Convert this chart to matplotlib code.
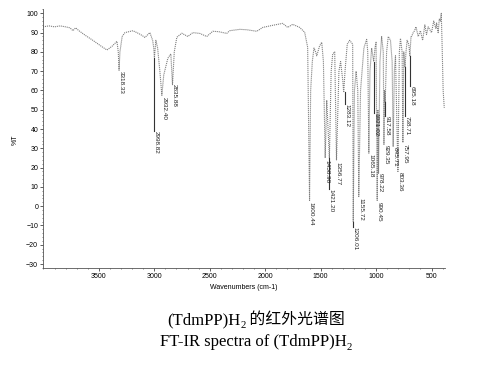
import numpy as np
import matplotlib
matplotlib.use('Agg')
import matplotlib.pyplot as plt
from matplotlib.ticker import MultipleLocator

plt.rcParams['font.family'] = ['Liberation Sans', 'DejaVu Sans']

# spectrum knots (wavenumber cm-1, %T)
SPEC_WN = [4004, 3950, 3900, 3850, 3800, 3760, 3734, 3710, 3680, 3620, 3554, 3480, 3427,
           3380, 3337, 3325, 3318, 3310, 3290, 3265, 3193, 3140, 3112, 3085, 3040, 3015,
           3005, 2999, 2992, 2986, 2970, 2950, 2932, 2915, 2878, 2851, 2836, 2820, 2797,
           2752, 2698, 2653, 2590, 2527, 2473, 2420, 2347, 2320, 2229, 2166, 2076, 2022,
           1932, 1842, 1797, 1752, 1689, 1644, 1617, 1600, 1590, 1575, 1560, 1545, 1535,
           1510, 1490, 1475, 1459, 1445, 1421, 1405, 1391, 1373, 1357, 1335, 1320, 1300,
           1292, 1280, 1260, 1238, 1225, 1211, 1206, 1195, 1180, 1165, 1156, 1140, 1110,
           1085, 1075, 1065, 1055, 1040, 1021, 1010, 1000, 990, 984, 978, 965, 950, 935,
           929, 923, 917.6, 905, 890, 870, 855, 846, 835, 825, 803, 790, 780, 765, 758,
           750, 739, 730, 720, 705, 695, 685, 680, 665, 653, 640, 620, 600, 580, 560, 545,
           530, 500, 480, 460, 454, 440, 430, 420, 412, 405, 395, 385]
SPEC_T = [93, 93.5, 93, 93.5, 93, 92.5, 91, 92.5, 91, 88.5, 86, 83, 81,
          83, 85.5, 80, 70.5, 80, 88, 90, 91, 89.5, 88.6, 87.5, 90, 86,
          82, 77, 82, 86, 82, 70, 57.5, 68, 76.7, 79, 63, 80, 87.6,
          89.7, 88, 90, 89.6, 88, 90.7, 90.5, 89.6, 91, 91.7, 91.5, 90.7, 92.7,
          93.8, 94.8, 92.7, 94.3, 92.7, 90.2, 82.4, 3, 60, 75, 82, 80, 78,
          83, 85, 75, 25, 55, 25, 70, 79, 80, 24, 70, 75, 65,
          59, 70, 84, 86, 85, 84, -8, 60, 70, 60, 5, 60, 82,
          86.5, 80, 27.5, 70, 82, 75, 82, 85, 3, 50, 17, 75, 88, 80,
          32, 60, 54, 80, 88, 86, 75, 31, 70, 78, 18, 80, 87, 80, 33,
          80, 72, 80, 86, 84, 78, 88, 88, 90, 91, 93, 88, 91, 86, 94, 89,
          93, 90, 96, 92, 95, 90, 97, 96, 100, 85, 60, 51]

# labelled peaks
PEAK_LABELS = ['3318.33', '2998.82', '2932.40', '2835.88', '1600.44', '1458.90', '1421.20',
               '1356.77', '1283.12', '1206.01', '1155.72', '1065.18', '1021.02', '990.45',
               '978.22', '929.35', '917.58', '845.71', '803.36', '757.95', '738.71', '695.18']
PEAK_WN = [3318.33, 2998.82, 2932.40, 2835.88, 1600.44, 1458.90, 1421.20, 1356.77, 1283.12,
           1206.01, 1155.72, 1065.18, 1021.02, 990.45, 978.22, 929.35, 917.58, 845.71,
           803.36, 757.95, 738.71, 695.18]
PEAK_T = [70.5, 77, 57.5, 63, 3, 25, 25, 24, 59, -8, 5, 27.5, 75, 3, 17, 32, 54, 31, 18,
          33, 72, 78]
LABEL_T = [70, 39, 56.5, 63.5, 2, 24, 9, 23, 53, -11, 4.5, 27, 48.5, 2, 17, 31.5, 47,
           30.5, 17.5, 32.5, 47, 62.5]

fig = plt.figure(figsize=(4.97, 3.65), dpi=100)
ax = fig.add_axes([0.0865, 0.266, 0.8085, 0.708])

ax.plot(SPEC_WN, SPEC_T, color='#808080', lw=0.8, ls=(0, (1, 0.8)))

for lab, wn, pt, lt in zip(PEAK_LABELS, PEAK_WN, PEAK_T, LABEL_T):
    if pt - lt > 1.5:
        ax.plot([wn, wn], [pt, lt], color='#333333', lw=0.8)
    ax.text(wn + 5, lt, lab, rotation=-90, ha='left', va='bottom', fontsize=4.6,
            color='#222222', rotation_mode='anchor')

ax.set_xlim(4004, 380)
ax.set_ylim(-32, 102)
ax.xaxis.set_minor_locator(MultipleLocator(100))
ax.yaxis.set_minor_locator(MultipleLocator(2))
ax.set_xticks([3500, 3000, 2500, 2000, 1500, 1000, 500])
ax.set_yticks(np.arange(-30, 101, 10))

for s in ['top', 'right']:
    ax.spines[s].set_visible(False)
for s in ['left', 'bottom']:
    ax.spines[s].set_color('#555555')
    ax.spines[s].set_linewidth(0.6)
ax.tick_params(which='major', length=2, width=0.6, color='#444444', labelsize=5, pad=1.5)
ax.tick_params(which='minor', length=1, width=0.5, color='#555555')

ax.set_xlabel('Wavenumbers (cm-1)', fontsize=5, labelpad=3)
fig.text(15 / 497, 1 - 140 / 365, '%T', rotation=90, ha='center', va='center', fontsize=5)

# caption: pieces laid side by side so the CJK text and subscript both render
cap_fs = 12
r = fig.canvas.get_renderer()

def caption(parts, y):
    objs = []
    x = 0.0
    for txt, fam, size, dy in parts:
        t = fig.text(x, y + dy, txt, ha='left', va='baseline', fontsize=size, family=fam)
        w = t.get_window_extent(renderer=r).width / fig.bbox.width
        objs.append((t, x, w))
        x += w
    start = 0.515 - x / 2
    for t, x0, w in objs:
        t.set_x(start + x0)

serif = ['Liberation Serif']
cjk = ['Noto Sans CJK SC']
caption([('(TdmPP)H', serif, cap_fs, 0), ('2', serif, cap_fs * 0.65, -0.012),
         (' 的红外光谱图', cjk, cap_fs * 0.95, 0)], 0.112)
caption([('FT-IR spectra of (TdmPP)H', serif, cap_fs, 0), ('2', serif, cap_fs * 0.65, -0.012)],
        0.052)

fig.savefig('out.png', dpi=100)
